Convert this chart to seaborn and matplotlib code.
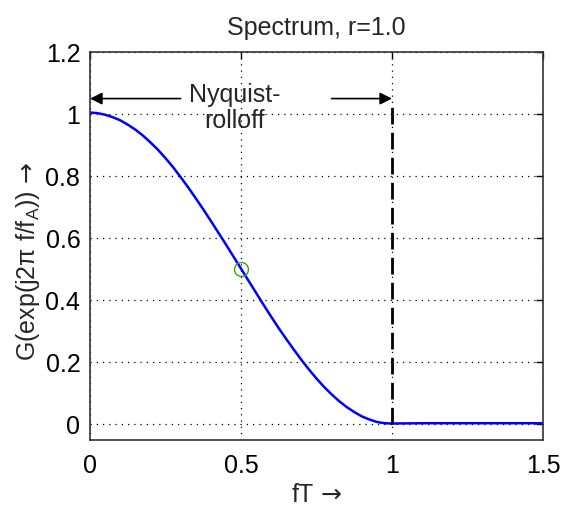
import matplotlib
matplotlib.use("Agg")
import matplotlib.pyplot as plt
import seaborn as sns
import pandas as pd

# Data
fT = [0.0, 0.025, 0.05, 0.075, 0.10, 0.125, 0.15, 0.175, 0.20, 0.225, 0.25,
      0.275, 0.30, 0.325, 0.35, 0.375, 0.40, 0.425, 0.45, 0.475, 0.50,
      0.525, 0.55, 0.575, 0.60, 0.625, 0.65, 0.675, 0.70, 0.725, 0.75,
      0.775, 0.80, 0.825, 0.85, 0.875, 0.90, 0.925, 0.95, 0.975, 1.00,
      1.10, 1.20, 1.30, 1.40, 1.50]
G = [1.005, 1.003, 0.998, 0.990, 0.980, 0.966, 0.950, 0.931, 0.909, 0.885, 0.858,
     0.829, 0.797, 0.764, 0.729, 0.693, 0.656, 0.618, 0.580, 0.541, 0.502,
     0.463, 0.424, 0.385, 0.347, 0.310, 0.275, 0.241, 0.208, 0.177, 0.148,
     0.121, 0.097, 0.075, 0.056, 0.040, 0.026, 0.016, 0.008, 0.004, 0.003,
     0.004, 0.004, 0.004, 0.004, 0.004]
marker_x = [0.5]
marker_y = [0.5]
x_ticks = [0, 0.5, 1, 1.5]
x_tick_labels = ["0", "0.5", "1", "1.5"]
y_ticks = [0, 0.2, 0.4, 0.6, 0.8, 1.0, 1.2]
y_tick_labels = ["0", "0.2", "0.4", "0.6", "0.8", "1", "1.2"]

df = pd.DataFrame({"fT": fT, "G": G})

sns.set_style("white")
plt.rcParams["font.family"] = ["Liberation Sans", "DejaVu Sans"]
plt.rcParams["mathtext.fontset"] = "custom"
plt.rcParams["mathtext.rm"] = "DejaVu Sans"
plt.rcParams["mathtext.it"] = "Liberation Sans"

fig = plt.figure(figsize=(5.64, 5.09), dpi=100)
ax = fig.add_axes([0.1596, 0.1356, 0.8032, 0.7622])

sns.lineplot(data=df, x="fT", y="G", ax=ax, color="#0000ff", linewidth=1.8)
ax.plot(marker_x, marker_y, "o", markerfacecolor="none", markeredgecolor="#33a033",
        markersize=10, markeredgewidth=1.0, zorder=5)

ax.set_xlim(0, 1.5)
ax.set_ylim(-0.05, 1.2)
ax.set_xticks(x_ticks)
ax.set_xticklabels(x_tick_labels)
ax.set_yticks(y_ticks)
ax.set_yticklabels(y_tick_labels)
ax.tick_params(direction="in", length=5, width=1, top=True, right=True,
               labelsize=18, colors="black")
ax.tick_params(axis="x", pad=10)
ax.tick_params(axis="y", pad=7)
ax.grid(True, linestyle=(0, (1, 4)), color="black", linewidth=0.9)
for s in ax.spines.values():
    s.set_color("#333333")
    s.set_linewidth(1.2)

# dashed vertical line at fT=1
ax.plot([1, 1], [0, 1.05], color="black", linestyle=(0, (6, 3)), linewidth=2.0)

# arrows
ax.annotate("", xy=(0.0, 1.05), xytext=(0.30, 1.05),
            arrowprops=dict(arrowstyle="-|>", color="black", lw=1.2,
                            mutation_scale=18, shrinkA=0, shrinkB=0))
ax.annotate("", xy=(1.0, 1.05), xytext=(0.80, 1.05),
            arrowprops=dict(arrowstyle="-|>", color="black", lw=1.2,
                            mutation_scale=18, shrinkA=0, shrinkB=0))
ax.text(0.48, 1.02, "Nyquist-\nrolloff", ha="center", va="center",
        fontsize=18, linespacing=1.12)

ax.set_title("Spectrum, r=1.0", fontsize=18, pad=12)
ax.set_xlabel(r"fT$\,\rightarrow$", fontsize=18, labelpad=4)
ax.set_ylabel(r"G(exp(j2π f/f$_{A}$))$\,\rightarrow$", fontsize=18, labelpad=2)
ax.yaxis.set_label_coords(-0.105, 0.46)

fig.savefig("out.png", dpi=100, facecolor="white")
